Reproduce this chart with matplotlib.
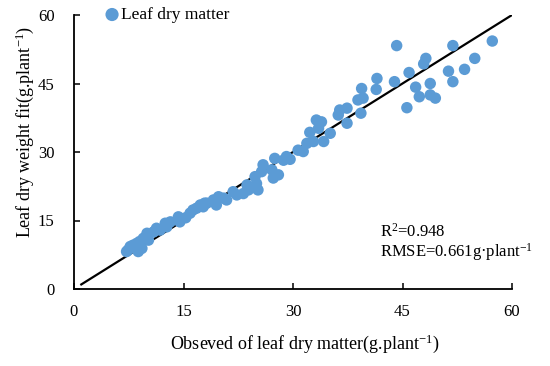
import matplotlib
matplotlib.use("Agg")
import matplotlib.pyplot as plt

plt.rcParams.update({
    "font.family": ["Liberation Serif", "DejaVu Serif"],
    "mathtext.fontset": "custom",
    "mathtext.rm": "Liberation Serif",
    "mathtext.it": "Liberation Serif:italic",
    "mathtext.bf": "Liberation Serif:bold",
})

# ── Data ─────────────────────────────────────────────────────────────────────
observed = [7.2, 7.4, 7.7, 8.1, 8.6, 8.8, 9.0, 9.3, 9.5, 10.0, 10.2, 10.9, 11.3,
            11.8, 12.5, 12.7, 13.2, 14.3, 14.5, 15.3, 15.9, 16.3, 16.8, 17.3, 17.7,
            17.9, 18.2, 19.1, 19.5, 19.8, 20.5, 20.9, 21.8, 22.3, 23.2, 23.7, 23.9,
            24.8, 25.0, 25.2, 25.7, 25.9, 27.1, 27.3, 27.5, 28.0, 28.7, 29.1, 29.6,
            30.7, 31.4, 31.9, 32.3, 32.8, 33.2, 33.5, 33.9, 34.2, 35.1, 36.2, 36.4,
            37.4, 37.4, 38.9, 39.3, 39.4, 39.6, 41.4, 41.5, 43.9, 44.2, 45.6, 45.9,
            46.8, 47.3, 47.9, 48.2, 48.8, 48.8, 49.5, 51.3, 51.9, 51.9, 53.5, 54.9,
            57.3]
fitted = [8.2, 8.5, 9.3, 9.6, 10.0, 8.2, 10.4, 8.9, 11.1, 12.2, 10.7, 12.5, 13.3,
          12.9, 14.4, 13.6, 14.7, 15.8, 14.7, 15.6, 16.6, 17.3, 17.7, 18.4, 18.0,
          18.8, 18.8, 19.5, 18.4, 20.2, 19.9, 19.5, 21.3, 20.6, 20.9, 22.8, 21.7,
          24.6, 23.1, 21.7, 25.7, 27.2, 26.1, 24.3, 28.6, 25.0, 28.2, 29.0, 28.4,
          30.4, 30.1, 31.9, 34.3, 32.3, 37.0, 35.2, 36.6, 32.3, 34.1, 38.1, 39.2,
          39.6, 36.3, 41.4, 38.5, 43.9, 41.8, 43.7, 46.1, 45.4, 53.3, 39.7, 47.4,
          44.2, 42.1, 49.3, 50.5, 45.0, 42.5, 41.8, 47.7, 53.3, 45.4, 48.1, 50.5,
          54.3]
line_x = [1, 60]
line_y = [1, 60]
ticks = [0, 15, 30, 45, 60]

C_POINT = "#5B9BD5"

fig = plt.figure(figsize=(5.5, 3.66), dpi=100)
ax = fig.add_axes([74 / 550, 1 - 289 / 366, 438 / 550, 274 / 366])

ax.plot(line_x, line_y, color="black", lw=1.6, zorder=2)
ax.scatter(observed, fitted, s=68, color=C_POINT, edgecolors="none", zorder=3,
           label="Leaf dry matter")

ax.set_xlim(0, 60)
ax.set_ylim(0, 60)
ax.set_xticks(ticks)
ax.set_yticks(ticks)
for s in ("top", "right"):
    ax.spines[s].set_visible(False)
for s in ("left", "bottom"):
    ax.spines[s].set_linewidth(1.3)
ax.tick_params(axis="both", direction="in", length=4, width=1.1, labelsize=12)
ax.tick_params(axis="y", pad=14)
ax.tick_params(axis="x", pad=11)

ax.legend(loc="center left", bbox_to_anchor=(0.071, 1.0), frameon=False,
          fontsize=12.5, handlelength=0.8, handletextpad=0.1, borderpad=0,
          borderaxespad=0, scatterpoints=1, markerscale=1.15)

fig.text(380 / 550, 1 - 232 / 366, "R$^{2}$=0.948", ha="left", va="center",
         fontsize=12)
fig.text(380 / 550, 1 - 252 / 366, "RMSE=0.661g·plant$^{-1}$", ha="left",
         va="center", fontsize=12)

fig.text(305 / 550, 1 - 344 / 366, "Obseved of leaf dry matter(g.plant$^{-1}$)",
         ha="center", va="center", fontsize=13)
fig.text(25 / 550, 1 - 132 / 366, "Leaf dry weight fit(g.plant$^{-1}$)",
         ha="center", va="center", rotation=90, fontsize=13)

fig.savefig("out.png", dpi=100, facecolor="white")
